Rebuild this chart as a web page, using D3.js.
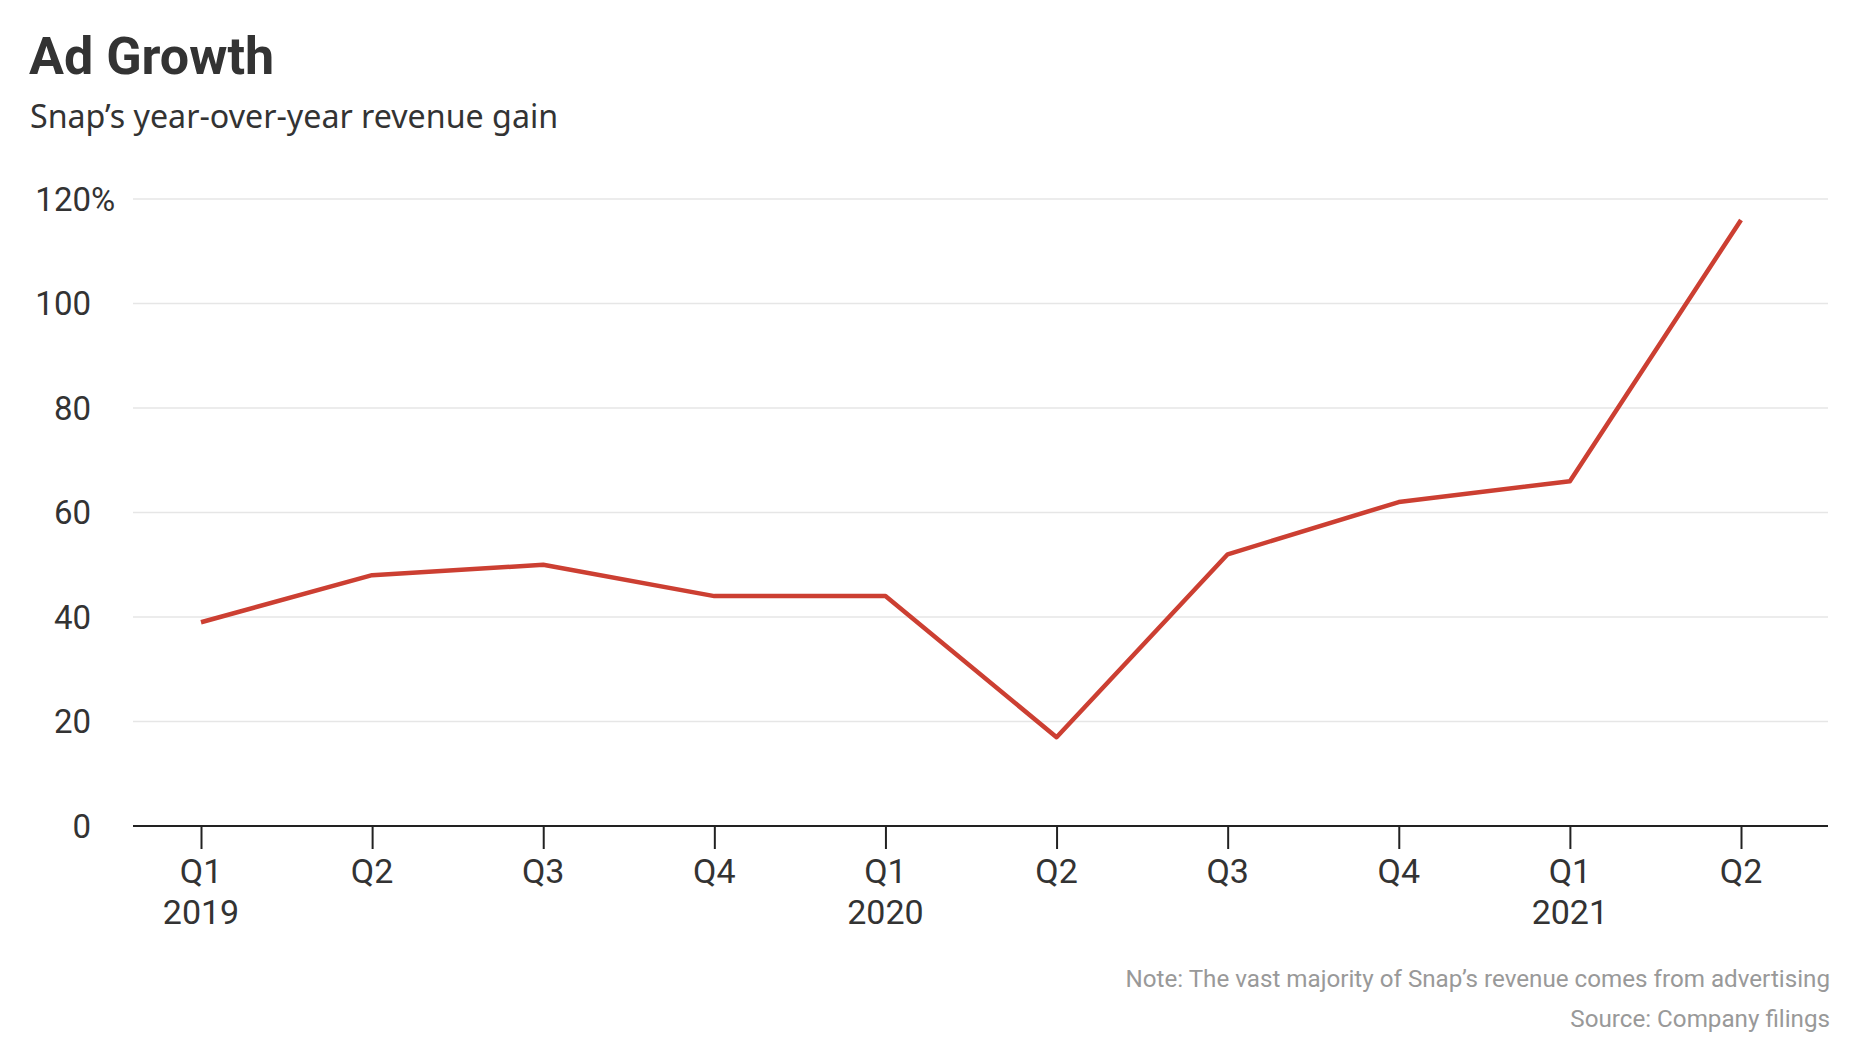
<!DOCTYPE html>
<html>
<head>
	<title>Ad Growth</title>
	<script src="https://d3js.org/d3.v7.min.js"></script>
	<style>
	body{
		margin: 0;
		background: #ffffff;
		font-family: Roboto, "Noto Sans", Arial;
	}
	.grid line{
		stroke: #e6e6e6;
		stroke-width: 1.5;
	}
	.ylabel{
		fill: #333333;
		font-size: 33px;
	}
	.xlabel{
		fill: #333333;
		font-size: 34px;
	}
	.foot{
		fill: #999999;
		font-size: 24.2px;
	}
	</style>
</head>
<body>
	<div id="chart"></div>
	<script>
		var quarters = ["Q1", "Q2", "Q3", "Q4", "Q1", "Q2", "Q3", "Q4", "Q1", "Q2"];
		var years = ["2019", "", "", "", "2020", "", "", "", "2021", ""];
		var growth = [39, 48, 50, 44, 44, 17, 52, 62, 66, 116];
		var yTicks = [0, 20, 40, 60, 80, 100, 120];

		var width = 1860, height = 1046;

		var svg = d3.select("#chart")
			.append("svg")
			.attr("width", width)
			.attr("height", height);

		var plotLeft = 133, plotRight = 1828;

		var x = d3.scalePoint()
			.domain(d3.range(quarters.length))
			.range([201, 1741]);

		var y = d3.scaleLinear()
			.domain([0, 120])
			.range([826, 199]);

		// titles
		svg.append("text")
			.attr("x", 29)
			.attr("y", 74)
			.attr("fill", "#333333")
			.attr("font-size", "52px")
			.attr("font-weight", "bold")
			.text("Ad Growth");

		svg.append("text")
			.attr("x", 30)
			.attr("y", 128)
			.attr("fill", "#333333")
			.attr("font-size", "32.2px")
			.attr("font-family", "'Noto Sans', Roboto")
			.text("Snap\u2019s year-over-year revenue gain");

		// gridlines
		svg.append("g")
			.attr("class", "grid")
			.selectAll("line")
			.data(yTicks.slice(1))
			.enter().append("line")
			.attr("x1", plotLeft)
			.attr("x2", plotRight)
			.attr("y1", function(d){return y(d);})
			.attr("y2", function(d){return y(d);});

		// y labels, numbers right-aligned with % hanging
		svg.append("g")
			.selectAll("text")
			.data(yTicks)
			.enter().append("text")
			.attr("class", "ylabel")
			.attr("x", 91)
			.attr("y", function(d){return y(d);})
			.attr("dy", "0.36em")
			.attr("text-anchor", "end")
			.text(function(d){return d;});

		svg.append("text")
			.attr("class", "ylabel")
			.attr("x", 91)
			.attr("y", y(120))
			.attr("dy", "0.36em")
			.text("%");

		// x axis
		var xAxis = d3.axisBottom(x)
			.tickSize(23)
			.tickFormat("");

		var gx = svg.append("g")
			.attr("transform", "translate(0," + y(0) + ")")
			.call(xAxis);
		gx.select(".domain").remove();
		gx.selectAll(".tick line").attr("stroke", "#222222").attr("stroke-width", 2);

		svg.append("line")
			.attr("x1", plotLeft)
			.attr("x2", plotRight)
			.attr("y1", y(0))
			.attr("y2", y(0))
			.attr("stroke", "#222222")
			.attr("stroke-width", 2);

		svg.append("g")
			.selectAll("text")
			.data(quarters)
			.enter().append("text")
			.attr("class", "xlabel")
			.attr("x", function(d, i){return x(i);})
			.attr("y", 883)
			.attr("text-anchor", "middle")
			.text(function(d){return d;});

		svg.append("g")
			.selectAll("text")
			.data(years)
			.enter().append("text")
			.attr("class", "xlabel")
			.attr("x", function(d, i){return x(i);})
			.attr("y", 924)
			.attr("text-anchor", "middle")
			.text(function(d){return d;});

		// the line
		var line = d3.line()
			.x(function(d, i){return x(i);})
			.y(function(d){return y(d);});

		svg.append("path")
			.datum(growth)
			.attr("fill", "none")
			.attr("stroke", "#cc3f32")
			.attr("stroke-width", 4.5)
			.attr("stroke-linejoin", "round")
			.attr("d", line);

		// footnotes
		svg.append("text")
			.attr("class", "foot")
			.attr("x", 1830)
			.attr("y", 987)
			.attr("text-anchor", "end")
			.text("Note: The vast majority of Snap\u2019s revenue comes from advertising");

		svg.append("text")
			.attr("class", "foot")
			.attr("x", 1830)
			.attr("y", 1027)
			.attr("text-anchor", "end")
			.text("Source: Company filings");
	</script>
</body>
</html>
